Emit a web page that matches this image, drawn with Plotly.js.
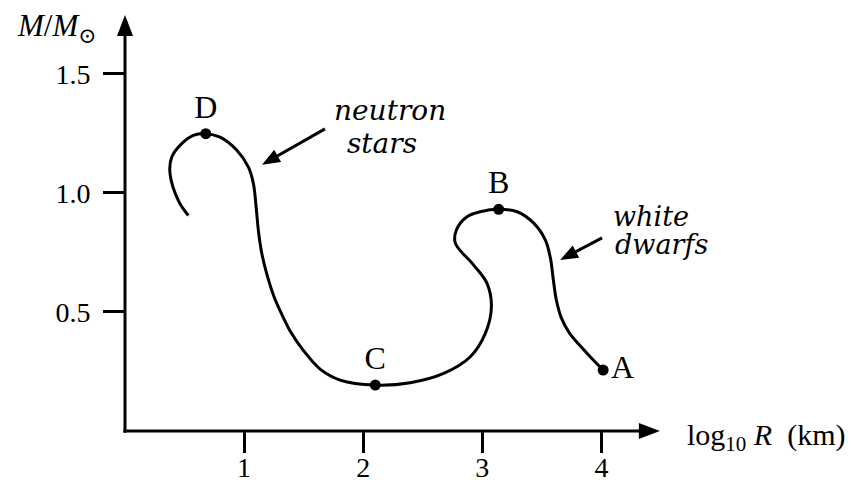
<!DOCTYPE html>
<html>
<head>
<meta charset="utf-8">
<script src="https://cdn.plot.ly/plotly-3.0.1.min.js"></script>
<style>
  html, body { margin: 0; padding: 0; background: #fff; }
  #chart { width: 851px; height: 483px; }
</style>
</head>
<body>
<div id="chart"></div>
<script>
// mass-radius curve (log10 R in km, M in solar masses)
const curveLogR = [0.532, 0.448, 0.378, 0.392, 0.476, 0.574, 0.678, 0.798, 0.939, 1.036,
  1.078, 1.101, 1.122, 1.151, 1.193, 1.252, 1.319, 1.386, 1.495, 1.638,
  1.806, 2.101, 2.395, 2.675, 2.899, 3.025, 3.076, 3.039, 2.927, 2.773,
  2.782, 2.871, 2.983, 3.137, 3.292, 3.431, 3.529, 3.571, 3.596, 3.621,
  3.663, 3.730, 3.823, 3.915, 4.014];
const curveMass = [0.905, 0.968, 1.081, 1.150, 1.207, 1.242, 1.249, 1.234, 1.179, 1.108,
  1.039, 0.940, 0.832, 0.739, 0.655, 0.563, 0.487, 0.420, 0.340, 0.260,
  0.214, 0.193, 0.203, 0.242, 0.312, 0.410, 0.522, 0.620, 0.697, 0.789,
  0.844, 0.900, 0.921, 0.931, 0.921, 0.873, 0.802, 0.727, 0.634, 0.550,
  0.475, 0.412, 0.357, 0.307, 0.256];

// labelled points
const pointLabels = ['A', 'B', 'C', 'D'];
const pointLogR = [4.014, 3.137, 2.101, 0.678];
const pointMass = [0.256, 0.931, 0.193, 1.249];

const xTicks = [1, 2, 3, 4];
const yTicks = [0.5, 1.0, 1.5];
const yTickText = ['0.5', '1.0', '1.5'];

const xMax = 4.55, yMax = 1.76;
const serif = 'Liberation Serif, DejaVu Serif, serif';
const italic = 'DejaVu Serif, serif';

const data = [
  {
    x: curveLogR,
    y: curveMass,
    type: 'scatter',
    mode: 'lines',
    line: { color: '#000', width: 3, shape: 'spline', smoothing: 1 },
    hoverinfo: 'skip'
  },
  {
    x: pointLogR,
    y: pointMass,
    text: pointLabels,
    type: 'scatter',
    mode: 'markers+text',
    marker: { color: '#000', size: 11 },
    textposition: ['middle right', 'top center', 'top center', 'top center'],
    textfont: { family: serif, size: 32, color: '#000' },
    cliponaxis: false
  }
];

// little filled arrowhead, path in pixels relative to its tip
function head(xref, yref, x, y, path) {
  return { type: 'path', xref: xref, yref: yref, xsizemode: 'pixel', ysizemode: 'pixel',
    xanchor: x, yanchor: y, path: path, fillcolor: '#000', line: { width: 0 } };
}
function stroke(xref, yref, x0, y0, x1, y1) {
  return { type: 'line', xref: xref, yref: yref, x0: x0, y0: y0, x1: x1, y1: y1,
    line: { color: '#000', width: 3 } };
}

const shapes = [
  // axes with arrows (paper refs so they are not clipped)
  stroke('paper', 'paper', -0.003, 0, 4.40 / xMax, 0),
  head('paper', 'paper', 4.49 / xMax, 0, 'M0,0L-21,-8L-21,8Z'),
  stroke('paper', 'paper', 0, -0.004, 0, 1.70 / yMax),
  head('paper', 'paper', 0, 1.747 / yMax, 'M0,0L-8,-21L8,-21Z'),
  // pointers to the two branches
  stroke('x', 'y', 1.679, 1.269, 1.212, 1.136),
  head('x', 'y', 1.150, 1.118, 'M0,0L19.1,2.9L12.2,15Z'),
  stroke('x', 'y', 4.005, 0.811, 3.715, 0.735),
  head('x', 'y', 3.652, 0.718, 'M0,0L19.2,2.2L12.7,14.6Z')
];

const layout = {
  width: 851,
  height: 483,
  margin: { l: 125, r: 184, t: 12, b: 52 },
  paper_bgcolor: '#fff',
  plot_bgcolor: '#fff',
  showlegend: false,
  xaxis: {
    range: [0, xMax],
    showgrid: false, zeroline: false, showline: false,
    tickmode: 'array', tickvals: xTicks, ticktext: xTicks.map(String),
    ticks: 'outside', ticklen: 21, tickwidth: 3, tickcolor: '#000',
    ticklabelstandoff: -10,
    tickfont: { family: serif, size: 28, color: '#000' }
  },
  yaxis: {
    range: [0, yMax],
    showgrid: false, zeroline: false, showline: false,
    tickmode: 'array', tickvals: yTicks, ticktext: yTickText,
    ticks: 'outside', ticklen: 21, tickwidth: 3, tickcolor: '#000',
    ticklabelstandoff: 7,
    tickfont: { family: serif, size: 28, color: '#000' }
  },
  shapes: shapes,
  annotations: [
    {
      x: -0.1255, y: 0.962, xref: 'paper', yref: 'paper', xanchor: 'center', yanchor: 'middle',
      showarrow: false,
      text: '<i>M</i>/<i>M</i><sub>⊙</sub>',
      font: { family: serif, size: 31, color: '#000' }
    },
    {
      x: 1.1845, y: -0.0143, xref: 'paper', yref: 'paper', xanchor: 'center', yanchor: 'middle',
      showarrow: false,
      text: 'log<sub>10</sub> <i>R</i>  (km)',
      font: { family: serif, size: 30, color: '#000' }
    },
    {
      x: 2.226, y: 1.347, xref: 'x', yref: 'y', showarrow: false,
      text: '<i>neutron</i>', font: { family: italic, size: 28, color: '#000' }
    },
    {
      x: 2.158, y: 1.208, xref: 'x', yref: 'y', showarrow: false,
      text: '<i>stars</i>', font: { family: italic, size: 28, color: '#000' }
    },
    {
      x: 4.417, y: 0.903, xref: 'x', yref: 'y', showarrow: false,
      text: '<i>white</i>', font: { family: italic, size: 27, color: '#000' }
    },
    {
      x: 4.50, y: 0.782, xref: 'x', yref: 'y', showarrow: false,
      text: '<i>dwarfs</i>', font: { family: italic, size: 27, color: '#000' }
    }
  ]
};

Plotly.newPlot('chart', data, layout, { displayModeBar: false, staticPlot: true });
</script>
</body>
</html>
